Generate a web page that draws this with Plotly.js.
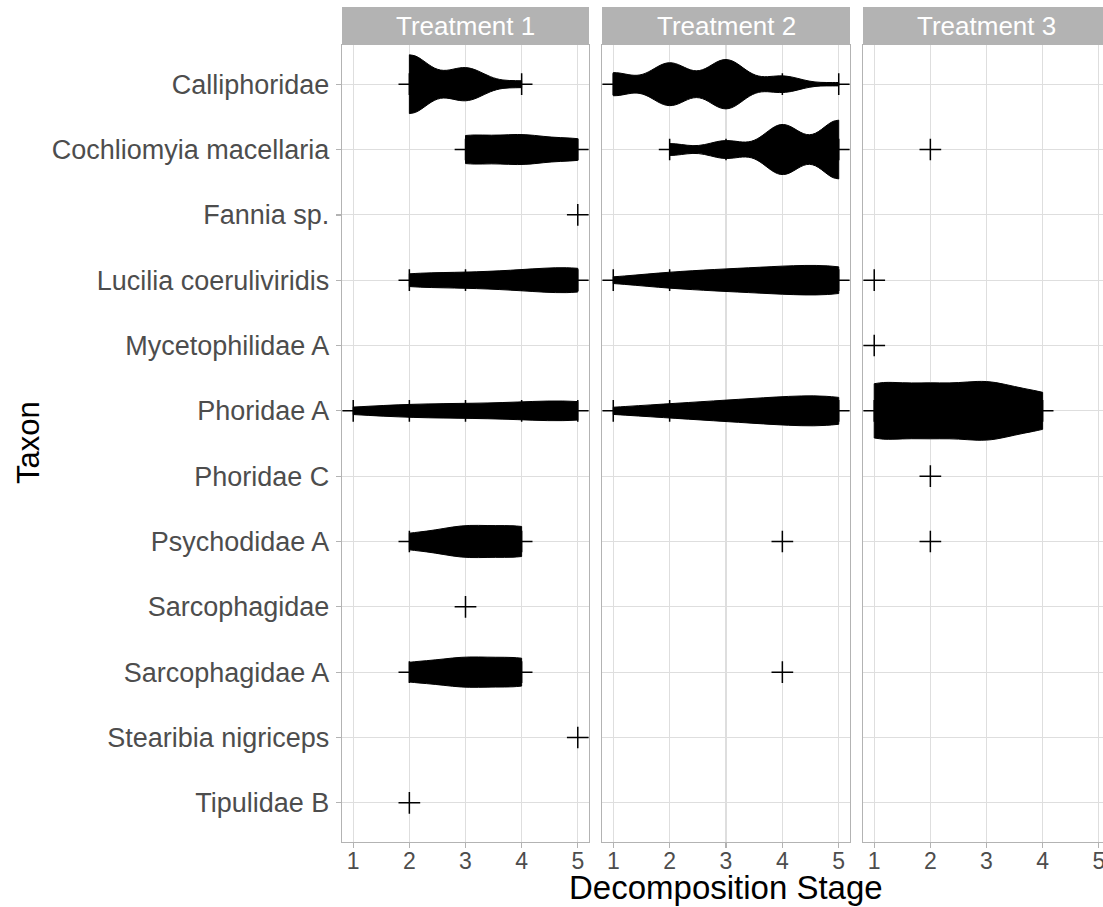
<!DOCTYPE html>
<html><head><meta charset="utf-8">
<script src="https://cdn.plot.ly/plotly-3.0.1.min.js"></script>
<style>html,body{margin:0;padding:0;background:#fff}#chart{width:1103px;height:907px}</style>
</head><body><div id="chart"></div>
<script>
// ---------------- data ----------------
const taxa = ["Calliphoridae","Cochliomyia macellaria","Fannia sp.","Lucilia coeruliviridis",
  "Mycetophilidae A","Phoridae A","Phoridae C","Psychodidae A","Sarcophagidae",
  "Sarcophagidae A","Stearibia nigriceps","Tipulidae B"];
const stages = [1, 2, 3, 4, 5];
const stageLabels = ["1", "2", "3", "4", "5"];
const treatments = ["Treatment 1", "Treatment 2", "Treatment 3"];
// individuals observed at decomposition stage 1..5 (one row per taxon, order of `taxa`)
const countsT1 = [
  [0, 9, 5, 1, 0],
  [0, 0, 4, 4, 3],
  [0, 0, 0, 0, 1],
  [0, 3, 3, 4, 6],
  [0, 0, 0, 0, 0],
  [1, 2, 2, 2, 4],
  [0, 0, 0, 0, 0],
  [0, 1, 2, 2, 0],
  [0, 0, 1, 0, 0],
  [0, 2, 3, 3, 0],
  [0, 0, 0, 0, 1],
  [0, 1, 0, 0, 0]];
const countsT2 = [
  [7, 13, 15, 5, 1],
  [0, 4, 6, 17, 20],
  [0, 0, 0, 0, 0],
  [1, 3, 4, 5, 6],
  [0, 0, 0, 0, 0],
  [1, 2, 3, 4, 5],
  [0, 0, 0, 0, 0],
  [0, 0, 0, 1, 0],
  [0, 0, 0, 0, 0],
  [0, 0, 0, 1, 0],
  [0, 0, 0, 0, 0],
  [0, 0, 0, 0, 0]];
const countsT3 = [
  [0, 0, 0, 0, 0],
  [0, 1, 0, 0, 0],
  [0, 0, 0, 0, 0],
  [1, 0, 0, 0, 0],
  [1, 0, 0, 0, 0],
  [8, 7, 8, 5, 0],
  [0, 1, 0, 0, 0],
  [0, 1, 0, 0, 0],
  [0, 0, 0, 0, 0],
  [0, 0, 0, 0, 0],
  [0, 0, 0, 0, 0],
  [0, 0, 0, 0, 0]];

// ---------------- helpers ----------------
function q7(s, p) { const h = (s.length - 1) * p, lo = Math.floor(h), hi = Math.ceil(h); return s[lo] + (h - lo) * (s[hi] - s[lo]); }
function bwNrd0(x) { // R's bw.nrd0 (ggplot default bandwidth)
  const n = x.length, m = x.reduce((a, b) => a + b, 0) / n;
  const sd = Math.sqrt(x.reduce((a, b) => a + (b - m) * (b - m), 0) / (n - 1));
  const s = x.slice().sort((a, b) => a - b);
  let lo = Math.min(sd, (q7(s, 0.75) - q7(s, 0.25)) / 1.34);
  if (!lo) lo = sd || Math.abs(x[0]) || 1;
  return 0.9 * lo * Math.pow(n, -0.2);
}

// ---------------- geometry (pixels) ----------------
const W = 1103, H = 907, L = 342, T = 45, B = 65;
const plotW = W - L, plotH = H - T - B;
const pxX = v => (v - L) / plotW, pxY = v => (H - B - v) / plotH;
const panelPx = [[342, 589], [602, 850], [863, 1110]];
const FONT = "Liberation Sans, Arial, sans-serif";

const panels = [countsT1, countsT2, countsT3];
const traces = [];
panels.forEach((counts, p) => {
  const xa = p ? 'x' + (p + 1) : 'x', ya = p ? 'y' + (p + 1) : 'y';
  const ptsX = [], ptsY = [];
  counts.forEach((row, i) => {
    const vals = [];
    row.forEach((c, k) => {
      for (let j = 0; j < c; j++) vals.push(stages[k]);
      if (c > 0) { ptsX.push(stages[k]); ptsY.push(taxa[i]); }
    });
    if (new Set(vals).size > 1) {
      traces.push({
        type: 'violin', orientation: 'h', x: vals, y: vals.map(() => taxa[i]),
        xaxis: xa, yaxis: ya, scalegroup: 'T' + (p + 1), scalemode: 'width',
        spanmode: 'hard', bandwidth: bwNrd0(vals), side: 'both',
        fillcolor: '#000000', line: { color: '#000000', width: 1 },
        points: false, box: { visible: false }, meanline: { visible: false },
        hoverinfo: 'skip', showlegend: false
      });
    }
  });
  traces.push({
    type: 'scatter', mode: 'markers', x: ptsX, y: ptsY, xaxis: xa, yaxis: ya,
    marker: { symbol: 'cross-thin-open', size: 15.5, color: '#000', line: { color: '#000', width: 1.5 } },
    hoverinfo: 'skip', showlegend: false
  });
});

const layout = {
  width: W, height: H, margin: { l: L, r: 0, t: T, b: B, pad: 0 },
  paper_bgcolor: '#fff', plot_bgcolor: '#fff', showlegend: false,
  violinmode: 'overlay', violingap: 0.1, violingroupgap: 0,
  font: { family: FONT, color: '#4D4D4D' },
  shapes: [], annotations: []
};
panelPx.forEach((d, i) => {
  const sfx = i ? String(i + 1) : '';
  const right = Math.min(d[1], W);
  layout['xaxis' + sfx] = {
    domain: [pxX(d[0]), pxX(right)], anchor: 'y' + sfx,
    range: [0.8, 0.8 + 4.4 * (right - d[0]) / (d[1] - d[0])], autorange: false,
    tickvals: stages, ticktext: stageLabels, ticklabeloverflow: 'allow',
    showgrid: true, gridcolor: '#DEDEDE', gridwidth: 1.1, zeroline: false,
    showline: true, mirror: true, linecolor: '#B3B3B3', linewidth: 1.3,
    ticks: 'outside', ticklen: 5, tickwidth: 1.3, tickcolor: '#B3B3B3',
    ticklabelstandoff: -7,
    tickfont: { family: FONT, size: 23, color: '#4D4D4D' }, fixedrange: true
  };
  layout['yaxis' + sfx] = {
    domain: [0, 1], anchor: 'x' + sfx, type: 'category',
    categoryorder: 'array', categoryarray: taxa,
    range: [taxa.length - 0.4, -0.6], autorange: false,
    showgrid: true, gridcolor: '#DEDEDE', gridwidth: 1.1, zeroline: false,
    showline: true, mirror: i < 2, linecolor: '#B3B3B3', linewidth: 1.3,
    ticks: i === 0 ? 'outside' : '', ticklen: 5, tickwidth: 1.3, tickcolor: '#B3B3B3',
    showticklabels: i === 0, ticklabelstandoff: 1,
    tickfont: { family: FONT, size: 27, color: '#4D4D4D' }, fixedrange: true
  };
  layout.shapes.push({
    type: 'rect', xref: 'paper', yref: 'paper', x0: pxX(d[0]), x1: pxX(right),
    y0: pxY(45), y1: pxY(7), fillcolor: '#B3B3B3', line: { width: 0 }, layer: 'above'
  });
  layout.annotations.push({
    xref: 'paper', yref: 'paper', x: pxX((d[0] + d[1]) / 2), y: pxY(26),
    xanchor: 'center', yanchor: 'middle', showarrow: false, text: treatments[i],
    font: { family: FONT, size: 26, color: '#FFFFFF' }
  });
});
layout.annotations.push({
  xref: 'paper', yref: 'paper', x: pxX((342 + 1110) / 2), y: pxY(887),
  xanchor: 'center', yanchor: 'middle', showarrow: false, text: 'Decomposition Stage',
  font: { family: FONT, size: 33, color: '#000' }
});
layout.annotations.push({
  xref: 'paper', yref: 'paper', x: pxX(28), y: pxY(443), textangle: -90,
  xanchor: 'center', yanchor: 'middle', showarrow: false, text: 'Taxon',
  font: { family: FONT, size: 31, color: '#000' }
});

Plotly.newPlot('chart', traces, layout, { staticPlot: true, displayModeBar: false });
</script></body></html>
